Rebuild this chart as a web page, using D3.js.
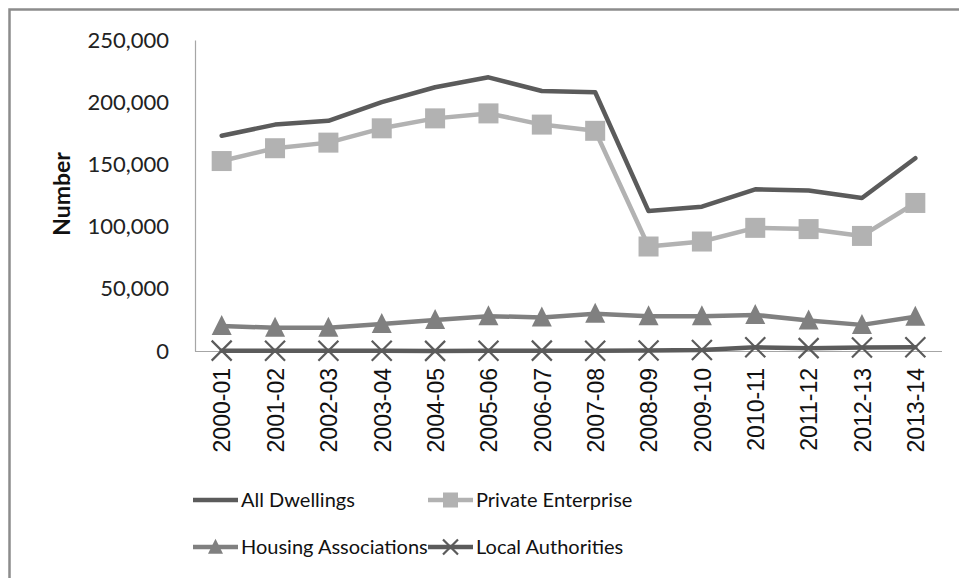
<!DOCTYPE html>
<html>
<head>
<meta charset="utf-8">
<script src="https://cdn.jsdelivr.net/npm/d3@7/dist/d3.min.js"></script>
<style>
  html, body { margin: 0; padding: 0; background: #fff; }
  svg { display: block; }
</style>
</head>
<body>
<svg id="chart" width="959" height="578"></svg>
<script>
// Financial years on the category axis
const years = ["2000-01","2001-02","2002-03","2003-04","2004-05","2005-06","2006-07",
               "2007-08","2008-09","2009-10","2010-11","2011-12","2012-13","2013-14"];

// Dwellings completed, by tenure
const allDwellings        = [173000,182000,185000,200000,212000,220000,209000,208000,112500,116000,130000,129000,123000,155000];
const privateEnterprise   = [152700,163000,167500,179000,187000,191000,182000,177000,84000,88000,99000,98000,92500,119000];
const housingAssociations = [20000,18700,18600,21700,25000,28000,27000,30000,28000,28000,29000,24500,21000,27500];
const localAuthorities    = [300,200,200,200,100,200,300,200,400,800,3000,2300,2800,3000];

const yTicks = [0, 50000, 100000, 150000, 200000, 250000];

const series = [
  { name: "All Dwellings",        values: allDwellings,        color: "#5b5b5b", marker: "none" },
  { name: "Private Enterprise",   values: privateEnterprise,   color: "#b2b2b2", marker: "square" },
  { name: "Housing Associations", values: housingAssociations, color: "#808080", marker: "triangle" },
  { name: "Local Authorities",    values: localAuthorities,    color: "#5b5b5b", marker: "cross" }
];

const svg = d3.select("#chart");
const W = 959, H = 578;

// outer frame (left and top edges visible)
svg.append("path")
  .attr("d", `M9.5,${H} L9.5,9.5 L${W},9.5`)
  .attr("fill", "none")
  .attr("stroke", "#8c8c8c")
  .attr("stroke-width", 2.5);

const plot = { left: 195, right: 942, top: 40, bottom: 351 };

const x = d3.scalePoint().domain(years).range([plot.left, plot.right]).padding(0.5);
const y = d3.scaleLinear().domain([0, 250000]).range([plot.bottom, plot.top]);

// Y axis
const yAxis = svg.append("g")
  .attr("transform", `translate(${plot.left},0)`)
  .call(d3.axisLeft(y).tickValues(yTicks).tickFormat(d3.format(",")).tickSize(0).tickPadding(26));
yAxis.select(".domain").attr("stroke", "#a6a6a6").attr("stroke-width", 1.2);
yAxis.selectAll("text")
  .attr("font-family", "Lato, 'Open Sans', sans-serif")
  .attr("font-size", 22)
  .attr("fill", "#222");

// X axis
const xAxis = svg.append("g")
  .attr("transform", `translate(0,${plot.bottom})`)
  .call(d3.axisBottom(x).tickSize(0).tickPadding(0));
xAxis.select(".domain").attr("stroke", "#a6a6a6").attr("stroke-width", 1.2)
  .attr("d", `M${plot.left},0.5H${plot.right}`);
xAxis.selectAll("text")
  .attr("font-family", "'Liberation Sans', Arial, sans-serif")
  .attr("font-size", 23)
  .attr("fill", "#111")
  .attr("text-anchor", "end")
  .attr("transform", "rotate(-90)")
  .attr("x", -17)
  .attr("y", 0)
  .attr("dy", "0.36em");

// Y axis title
svg.append("text")
  .attr("transform", "translate(62,194) rotate(-90)")
  .attr("text-anchor", "middle")
  .attr("dy", "0.36em")
  .attr("font-family", "Lato, 'Open Sans', sans-serif")
  .attr("font-weight", "bold")
  .attr("font-size", 23)
  .attr("fill", "#111")
  .text("Number");

// marker drawing
function drawMarker(g, type, color, scale) {
  const s = scale || 1;
  if (type === "square") {
    g.append("rect")
      .attr("x", -10 * s).attr("y", -10 * s)
      .attr("width", 20 * s).attr("height", 20 * s)
      .attr("fill", color);
  } else if (type === "triangle") {
    g.append("path")
      .attr("d", `M0,${-11 * s} L${10 * s},${9 * s} L${-10 * s},${9 * s} Z`)
      .attr("fill", color);
  } else if (type === "cross") {
    g.append("path")
      .attr("d", `M${-10 * s},${-10 * s} L${10 * s},${10 * s} M${10 * s},${-10 * s} L${-10 * s},${10 * s}`)
      .attr("stroke", color)
      .attr("stroke-width", 2.2)
      .attr("fill", "none");
  }
}

const line = d3.line().x((d, i) => x(years[i])).y(d => y(d));

// draw back-to-front so the totals stay on top
const drawOrder = [3, 2, 1, 0];
drawOrder.forEach(si => {
  const s = series[si];
  const g = svg.append("g");
  g.append("path")
    .datum(s.values)
    .attr("d", line)
    .attr("fill", "none")
    .attr("stroke", s.color)
    .attr("stroke-width", 4.5)
    .attr("stroke-linejoin", "round")
    .attr("stroke-linecap", "round");
  if (s.marker !== "none") {
    s.values.forEach((v, i) => {
      const m = g.append("g").attr("transform", `translate(${x(years[i])},${y(v)})`);
      drawMarker(m, s.marker, s.color, 1);
    });
  }
});

// Legend
const legendPos = [
  { x: 193, y: 500 }, { x: 428, y: 500 },
  { x: 193, y: 547 }, { x: 428, y: 547 }
];
series.forEach((s, i) => {
  const p = legendPos[i];
  const g = svg.append("g").attr("transform", `translate(${p.x},${p.y})`);
  g.append("line")
    .attr("x1", 0).attr("x2", 45).attr("y1", 0).attr("y2", 0)
    .attr("stroke", s.color).attr("stroke-width", 4.5);
  if (s.marker !== "none") {
    const m = g.append("g").attr("transform", "translate(22.5,0)");
    drawMarker(m, s.marker, s.color, 0.75);
  }
  g.append("text")
    .attr("x", 48).attr("y", 0).attr("dy", "0.36em")
    .attr("font-family", "Lato, 'Open Sans', sans-serif")
    .attr("font-size", 20)
    .attr("fill", "#111")
    .text(s.name);
});
</script>
</body>
</html>
